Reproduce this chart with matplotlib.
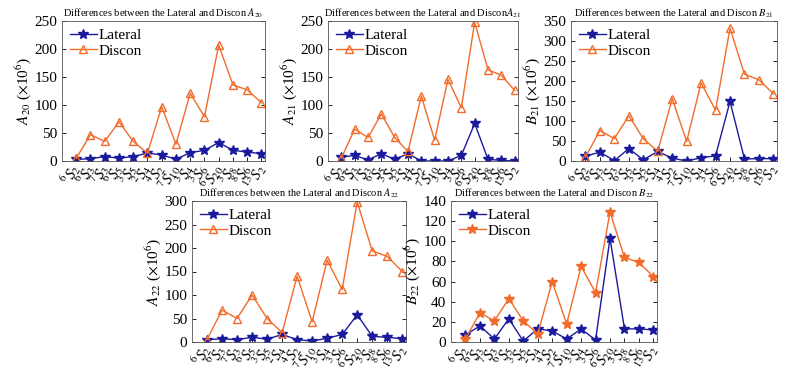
import matplotlib
matplotlib.use("Agg")
from matplotlib import pyplot as plt

plt.rcParams["font.family"] = ["Liberation Serif", "DejaVu Serif"]
plt.rcParams["mathtext.fontset"] = "stix"

# x tick labels: (superscript, subscript) of S
sup = ["6", "6", "7", "6", "3", "2", "4", "7", "3", "3", "6", "3", "8", "13"]
sub = ["2", "3", "3", "5", "5", "4", "2", "10", "4", "6", "20", "8", "6", "2"]
xlabels = [r"${}^{%s}S_{%s}$" % (a, b) for a, b in zip(sup, sub)]

a20_lat = [3, 4, 8, 5, 8, 14, 11, 3, 15, 19, 33, 19, 16, 13]
a20_dis = [5, 47, 35, 70, 35, 14, 97, 30, 121, 79, 207, 136, 127, 104]
a21_lat = [7, 10, 2, 13, 3, 13, 0, 0, 0, 10, 67, 3, 1, 0]
a21_dis = [5, 57, 42, 84, 42, 17, 116, 37, 146, 95, 248, 163, 153, 126]
b21_lat = [12, 22, 1, 31, 3, 24, 7, 0, 8, 13, 149, 5, 6, 6]
b21_dis = [10, 76, 56, 113, 56, 24, 156, 49, 195, 127, 332, 217, 203, 168]
a22_lat = [5, 7, 5, 10, 6, 16, 5, 2, 8, 16, 58, 12, 10, 7]
a22_dis = [5, 68, 50, 100, 50, 20, 140, 43, 174, 112, 298, 194, 182, 150]
b22_lat = [7, 16, 3, 23, 1, 13, 11, 3, 13, 2, 103, 13, 13, 12]
b22_dis = [3, 29, 21, 43, 21, 8, 60, 18, 75, 49, 129, 84, 79, 65]

W, H = 793, 370
fig = plt.figure(figsize=(W / 100, H / 100), dpi=100)

BLUE = "#1a1a9c"
ORANGE = "#f26b2a"


def panel(box, lat, dis, sym, num, ymax, ystep, title_sep=" ", dis_marker="^"):
    l, t, r, b = box
    ax = fig.add_axes([l / W, 1 - b / H, (r - l) / W, (b - t) / H])
    x = list(range(1, len(lat) + 1))
    ax.plot(x, lat, color=BLUE, marker="*", markersize=7, linewidth=1.0, label="Lateral")
    if dis_marker == "^":
        ax.plot(x, dis, color=ORANGE, marker="^", markersize=6, markerfacecolor="none",
                markeredgewidth=1.0, linewidth=1.0, label="Discon")
    else:
        ax.plot(x, dis, color=ORANGE, marker="*", markersize=7, linewidth=1.0, label="Discon")
    ax.set_xlim(0, 14.25)
    ax.set_ylim(0, ymax)
    ax.set_yticks(range(0, ymax + 1, ystep))
    ax.set_xticks(x)
    ax.set_xticklabels(xlabels, rotation=60, fontsize=6, ha="right", va="center",
                       rotation_mode="anchor")
    ax.tick_params(direction="in", top=False, right=True, labelsize=11, length=3, width=0.6)
    ax.tick_params(axis="x", pad=3)
    for s in ax.spines.values():
        s.set_linewidth(0.6)
        s.set_color("#555555")
    ax.set_ylabel(r"$%s_{%s}$ ($\times$10$^6$)" % (sym, num), fontsize=11, labelpad=1)
    ax.set_title(r"Differences between the Lateral and Discon%s$%s_{%s}$" % (title_sep, sym, num),
                 fontsize=7.5, pad=3)
    ax.legend(loc="upper left", frameon=False, fontsize=11, handlelength=1.8,
              borderaxespad=0.1, handletextpad=0.1, labelspacing=0.1)
    return ax


panel((62, 21, 265, 161), a20_lat, a20_dis, "A", "20", 250, 50)
panel((328, 21, 518, 161), a21_lat, a21_dis, "A", "21", 250, 50, title_sep="")
panel((571, 21, 777, 161), b21_lat, b21_dis, "B", "21", 350, 50)
panel((192, 201, 406, 342), a22_lat, a22_dis, "A", "22", 300, 50)
panel((451, 201, 657, 342), b22_lat, b22_dis, "B", "22", 140, 20, dis_marker="*")

fig.savefig("out.png", dpi=100)
